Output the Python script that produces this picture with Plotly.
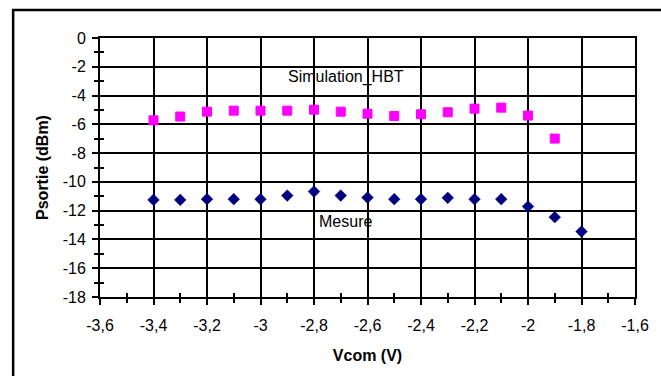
import plotly.graph_objects as go

vcom_sim = [-3.4, -3.3, -3.2, -3.1, -3.0, -2.9, -2.8, -2.7, -2.6, -2.5, -2.4, -2.3, -2.2, -2.1, -2.0, -1.9]
psortie_sim = [-5.72, -5.46, -5.12, -5.05, -5.05, -5.05, -4.98, -5.12, -5.26, -5.42, -5.30, -5.16, -4.91, -4.84, -5.39, -6.99]

vcom_mes = [-3.4, -3.3, -3.2, -3.1, -3.0, -2.9, -2.8, -2.7, -2.6, -2.5, -2.4, -2.3, -2.2, -2.1, -2.0, -1.9, -1.8]
psortie_mes = [-11.25, -11.25, -11.20, -11.20, -11.20, -10.95, -10.67, -10.95, -11.09, -11.20, -11.20, -11.11, -11.20, -11.20, -11.71, -12.45, -13.45]

x_range = [-3.6, -1.6]
y_range = [-18, 0]
x_ticks = [-3.6, -3.4, -3.2, -3.0, -2.8, -2.6, -2.4, -2.2, -2.0, -1.8, -1.6]
x_tick_text = ["-3,6", "-3,4", "-3,2", "-3", "-2,8", "-2,6", "-2,4", "-2,2", "-2", "-1,8", "-1,6"]
y_ticks = [0, -2, -4, -6, -8, -10, -12, -14, -16, -18]
y_tick_text = ["0", "-2", "-4", "-6", "-8", "-10", "-12", "-14", "-16", "-18"]

FONT = "Liberation Sans, Arial, sans-serif"

fig = go.Figure()
fig.add_trace(go.Scatter(
    x=vcom_sim, y=psortie_sim, mode="markers", name="Simulation_HBT",
    marker=dict(symbol="square", size=9, color="#FF00FF",
                line=dict(color="#FF00FF", width=1)),
))
fig.add_trace(go.Scatter(
    x=vcom_mes, y=psortie_mes, mode="markers", name="Mesure",
    marker=dict(symbol="diamond", size=9, color="#000080",
                line=dict(color="#000080", width=0.5)),
))
# invisible trace to create the overlay axes (inner half of crossing ticks)
fig.add_trace(go.Scatter(
    x=vcom_mes, y=psortie_mes, xaxis="x2", yaxis="y2", mode="markers",
    marker=dict(opacity=0), hoverinfo="skip", showlegend=False,
))

axis_common = dict(
    showline=True, linecolor="black", linewidth=2, mirror=True,
    showgrid=True, gridcolor="black", gridwidth=2,
    zeroline=False, ticks="outside", tickcolor="black", tickwidth=2,
    ticklen=6, tickfont=dict(family=FONT, size=16, color="black"),
)

fig.update_layout(
    width=661, height=376,
    margin=dict(l=100, r=19, t=38, b=79),
    paper_bgcolor="white", plot_bgcolor="white",
    showlegend=False,
    xaxis=dict(
        range=x_range, tickvals=x_ticks, ticktext=x_tick_text,
        minor=dict(dtick=0.1, tick0=-3.6, ticks="outside", ticklen=4,
                   tickcolor="black", tickwidth=2, showgrid=False),
        title=dict(text="<b>Vcom (V)</b>", font=dict(family=FONT, size=16, color="black"), standoff=17),
        ticklabelstandoff=7,
        **axis_common,
    ),
    yaxis=dict(
        range=y_range, tickvals=y_ticks, ticktext=y_tick_text,
        minor=dict(dtick=1, tick0=0, ticks="outside", ticklen=4,
                   tickcolor="black", tickwidth=2, showgrid=False),
        title=dict(text="<b>Psortie (dBm)</b>", font=dict(family=FONT, size=16, color="black"), standoff=10),
        ticklabelstandoff=3,
        **axis_common,
    ),
    xaxis2=dict(
        range=x_range, overlaying="x", anchor="y2", showgrid=False, zeroline=False,
        showline=False, showticklabels=False, tickvals=x_ticks, ticks="inside",
        ticklen=4, tickcolor="black", tickwidth=2,
        minor=dict(dtick=0.1, tick0=-3.6, ticks="inside", ticklen=4,
                   tickcolor="black", tickwidth=2, showgrid=False),
    ),
    yaxis2=dict(
        range=y_range, overlaying="y", anchor="x2", showgrid=False, zeroline=False,
        showline=False, showticklabels=False, tickvals=y_ticks, ticks="inside",
        ticklen=4, tickcolor="black", tickwidth=2,
        minor=dict(dtick=1, tick0=0, ticks="inside", ticklen=4,
                   tickcolor="black", tickwidth=2, showgrid=False),
    ),
    annotations=[
        dict(x=-2.679, y=-2.71, xref="x", yref="y", text="Simulation_HBT", showarrow=False,
             font=dict(family=FONT, size=16, color="black")),
        dict(x=-2.683, y=-12.78, xref="x", yref="y", text="Mesure", showarrow=False,
             font=dict(family=FONT, size=16, color="black")),
    ],
    shapes=[
        dict(type="rect", xref="paper", yref="paper",
             x0=(12 - 100) / 542, x1=(680 - 100) / 542,
             y0=(297 - 395) / 259, y1=(297 - 10) / 259,
             line=dict(color="black", width=2.5), fillcolor="rgba(0,0,0,0)", layer="below"),
    ],
)

fig.write_html("out.html", config={"displayModeBar": False},
               post_script="document.body.style.margin='0';document.body.style.padding='0';")
